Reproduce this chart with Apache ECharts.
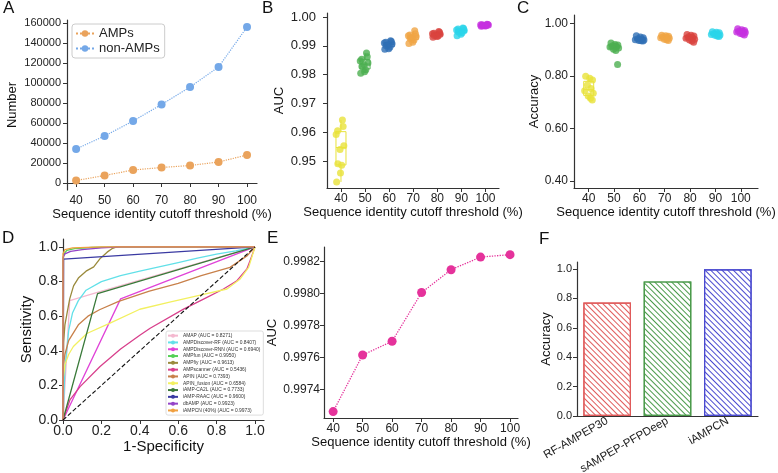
<!DOCTYPE html>
<html>
<head>
<meta charset="utf-8">
<script src="https://cdn.jsdelivr.net/npm/echarts@6/dist/echarts.min.js"></script>
<style>html,body{margin:0;padding:0;background:#fff}#main{width:778px;height:473px}</style>
</head>
<body>
<div id="main"></div>
<script>
var FONT = "'Liberation Sans', Arial, sans-serif";

// A: dataset sizes
var thresholds = [40, 50, 60, 70, 80, 90, 100];
var ampCount = [2500, 7500, 13000, 15500, 17500, 21000, 28000];
var nonAmpCount = [34000, 47000, 62000, 78500, 96000, 116000, 156000];

// B: AUC per fold
var aucFolds = [
  [0.9642, 0.9620, 0.9605, 0.9592, 0.9553, 0.9540, 0.9490, 0.9485, 0.9458, 0.9427],
  [0.9875, 0.9862, 0.9853, 0.9847, 0.9840, 0.9833, 0.9828, 0.9817, 0.9810, 0.9805],
  [0.9918, 0.9915, 0.9912, 0.9910, 0.9907, 0.9903, 0.9900, 0.9895, 0.9890, 0.9888],
  [0.9952, 0.9942, 0.9938, 0.9935, 0.9932, 0.9928, 0.9925, 0.9920, 0.9912, 0.9908],
  [0.9950, 0.9947, 0.9944, 0.9942, 0.9940, 0.9938, 0.9936, 0.9934, 0.9932, 0.9930],
  [0.9962, 0.9960, 0.9958, 0.9955, 0.9953, 0.9950, 0.9948, 0.9945, 0.9940, 0.9935],
  [0.9975, 0.9974, 0.9973, 0.9973, 0.9972, 0.9971, 0.9970, 0.9970, 0.9969, 0.9968]
];
var jitterB = [0.6, 0.9, -1.4, -2.0, 1.2, -0.4, -1.3, 0.3, -0.2, -1.8];

// C: accuracy per fold
var accFolds = [
  [0.799, 0.791, 0.784, 0.765, 0.752, 0.743, 0.734, 0.723, 0.715, 0.708],
  [0.925, 0.920, 0.918, 0.915, 0.912, 0.910, 0.906, 0.902, 0.897, 0.843],
  [0.953, 0.948, 0.945, 0.942, 0.940, 0.938, 0.937, 0.935, 0.934, 0.933],
  [0.955, 0.953, 0.951, 0.949, 0.947, 0.945, 0.943, 0.940, 0.938, 0.935],
  [0.958, 0.955, 0.952, 0.949, 0.946, 0.943, 0.940, 0.937, 0.933, 0.928],
  [0.968, 0.966, 0.964, 0.962, 0.960, 0.958, 0.956, 0.955, 0.952, 0.950],
  [0.980, 0.976, 0.973, 0.971, 0.969, 0.967, 0.965, 0.962, 0.960, 0.956]
];
var jitterC = [-1.2, 0.4, 1.5, -0.5, 0.9, -1.6, 1.8, -0.2, 0.7, 1.4];
var groupColors = ['#e8e23a', '#4caf50', '#2f6fb5', '#f0a545', '#d9443f', '#2ad4ea', '#c52fe0'];

// D: ROC curves
var rocNames = ['AMAP', 'AMPDiscover-RF', 'AMPDiscover-RNN', 'AMPfun', 'AMPfiy', 'AMPscanner',
  'APIN', 'APIN_fusion', 'iAMP-CA2L', 'iAMP-RAAC', 'dbAMP', 'iAMPCN (40%)'];
var rocAuc = ['0.8271', '0.8407', '0.6940', '0.9950', '0.9613', '0.5436',
  '0.7393', '0.6584', '0.7733', '0.9600', '0.9923', '0.9973'];
var rocColors = ['#f4b8cf', '#62e0e8', '#e043d8', '#55d055', '#9a8a3c', '#d8408c',
  '#c8804a', '#f2f060', '#3a7a3a', '#3a3aa2', '#9444c8', '#f0a040'];
var rocCurves = [
  [[0, 0], [0.035, 0.69], [0.17, 0.735], [1, 1]],
  [[0, 0], [0.01, 0.3], [0.03, 0.52], [0.05, 0.62], [0.08, 0.69], [0.12, 0.75], [0.2, 0.8], [0.3, 0.835],
    [0.4, 0.86], [0.5, 0.885], [0.6, 0.91], [0.7, 0.935], [0.8, 0.958], [0.9, 0.978], [1, 1]],
  [[0, 0], [0.3, 0.7], [1, 1]],
  [[0, 0], [0, 0.93], [0.005, 0.96], [0.02, 0.98], [0.06, 0.99], [0.15, 0.997], [0.3, 1], [1, 1]],
  [[0, 0], [0.003, 0.45], [0.01, 0.55], [0.02, 0.61], [0.035, 0.7], [0.055, 0.775], [0.08, 0.82],
    [0.12, 0.86], [0.16, 0.885], [0.195, 0.935], [0.23, 0.97], [0.255, 0.99], [0.28, 1], [1, 1]],
  [[0, 0], [0.036, 0.116], [0.089, 0.193], [0.193, 0.309], [0.3, 0.41], [0.4, 0.49], [0.454, 0.53],
    [0.628, 0.641], [0.732, 0.699], [0.836, 0.757], [0.906, 0.805], [0.958, 0.873], [0.984, 0.95], [1, 1]],
  [[0, 0], [0, 0.3], [0.01, 0.38], [0.03, 0.46], [0.08, 0.55], [0.13, 0.6], [0.19, 0.637], [0.29, 0.685],
    [0.45, 0.745], [0.6, 0.79], [0.72, 0.834], [0.87, 0.882], [0.96, 0.95], [1, 1]],
  [[0, 0], [0, 0.23], [0.01, 0.32], [0.03, 0.38], [0.054, 0.425], [0.124, 0.5], [0.245, 0.56], [0.4, 0.64],
    [0.55, 0.68], [0.715, 0.722], [0.854, 0.757], [0.923, 0.815], [0.967, 0.882], [1, 1]],
  [[0, 0], [0.18, 0.73], [1, 1]],
  [[0, 0], [0.003, 0.93], [1, 1]],
  [[0, 0], [0, 0.94], [0.01, 0.96], [0.04, 0.975], [0.1, 0.985], [0.2, 0.995], [0.3, 1], [1, 1]],
  [[0, 0], [0, 0.96], [0.01, 0.985], [0.05, 0.995], [0.2, 1], [1, 1]]
];

// E: iAMPCN AUC vs threshold
var aucIAMPCN = [0.99726, 0.997614, 0.99770, 0.998005, 0.998148, 0.998227, 0.998242];

// F: comparison
var toolNames = ['RF-AMPEP30', 'sAMPEP-PFPDeep', 'iAMPCN'];
var toolAcc = [0.772, 0.916, 0.999];
var toolColors = ['#e05a5a', '#4a9a4a', '#4a4ad0'];

function quantile(arr, p) {
  var s = arr.slice().sort(function (a, b) { return a - b; });
  var pos = (s.length - 1) * p, lo = Math.floor(pos);
  var hi = Math.min(lo + 1, s.length - 1);
  return s[lo] + (s[hi] - s[lo]) * (pos - lo);
}
function boxData(folds) {
  return folds.map(function (vals, i) {
    var q1 = quantile(vals, 0.25), q3 = quantile(vals, 0.75), med = quantile(vals, 0.5);
    var iqr = q3 - q1;
    var inside = vals.filter(function (v) { return v >= q1 - 1.5 * iqr && v <= q3 + 1.5 * iqr; });
    return [thresholds[i], Math.min.apply(null, inside), q1, med, q3, Math.max.apply(null, inside)];
  });
}
function jitterData(folds, jit) {
  var out = [];
  folds.forEach(function (vals, g) {
    vals.forEach(function (v, k) { out.push([thresholds[g] + jit[k], v, g]); });
  });
  return out;
}
function renderBox(params, api) {
  var x = api.value(0);
  var pLo = api.coord([x, api.value(1)]), pQ1 = api.coord([x, api.value(2)]);
  var pMed = api.coord([x, api.value(3)]), pQ3 = api.coord([x, api.value(4)]);
  var pHi = api.coord([x, api.value(5)]);
  var hw = 5, cx = pQ1[0];
  var st = { stroke: groupColors[params.dataIndex], fill: 'none', lineWidth: 1 };
  return {
    type: 'group', children: [
      { type: 'rect', shape: { x: cx - hw, y: pQ3[1], width: hw * 2, height: pQ1[1] - pQ3[1] }, style: st },
      { type: 'line', shape: { x1: cx - hw, y1: pMed[1], x2: cx + hw, y2: pMed[1] }, style: st },
      { type: 'line', shape: { x1: cx, y1: pLo[1], x2: cx, y2: pQ1[1] }, style: st },
      { type: 'line', shape: { x1: cx, y1: pQ3[1], x2: cx, y2: pHi[1] }, style: st }
    ]
  };
}

var axisLineStyle = { show: true, lineStyle: { color: '#333', width: 1.2 } };
var tickStyle = { show: true, length: 4, lineStyle: { color: '#333', width: 1 } };
function valAxis(grid, min, max, ticks, digits, size, margin, extra) {
  var a = {
    type: 'value', gridIndex: grid, min: min, max: max, scale: true,
    axisLine: axisLineStyle, splitLine: { show: false },
    axisTick: Object.assign({ customValues: ticks }, tickStyle),
    axisLabel: {
      customValues: ticks, color: '#222', fontFamily: FONT, fontSize: size, margin: margin,
      formatter: function (v) { return digits == null ? String(v) : v.toFixed(digits); }
    },
    nameLocation: 'middle', nameTextStyle: { color: '#111', fontFamily: FONT, fontSize: 13 }
  };
  return Object.assign(a, extra || {});
}

var chart = echarts.init(document.getElementById('main'));

var rocSeries = rocNames.map(function (n, i) {
  return {
    name: n + ' (AUC = ' + rocAuc[i] + ')', type: 'line', xAxisIndex: 3, yAxisIndex: 3,
    data: rocCurves[i], showSymbol: false, symbol: 'none', clip: false,
    lineStyle: { color: rocColors[i], width: 1.3 }, itemStyle: { color: rocColors[i] }, z: 3
  };
});

var option = {
  backgroundColor: '#fff',
  animation: false,
  textStyle: { fontFamily: FONT },
  graphic: [
    { type: 'text', left: 3, top: 0, style: { text: 'A', fontSize: 17, fill: '#111', fontFamily: FONT } },
    { type: 'text', left: 262, top: 0, style: { text: 'B', fontSize: 17, fill: '#111', fontFamily: FONT } },
    { type: 'text', left: 517, top: 0, style: { text: 'C', fontSize: 17, fill: '#111', fontFamily: FONT } },
    { type: 'text', left: 2, top: 230, style: { text: 'D', fontSize: 17, fill: '#111', fontFamily: FONT } },
    { type: 'text', left: 267, top: 230, style: { text: 'E', fontSize: 17, fill: '#111', fontFamily: FONT } },
    { type: 'text', left: 539, top: 231, style: { text: 'F', fontSize: 17, fill: '#111', fontFamily: FONT } }
  ],
  legend: [
    {
      data: ['AMPs', 'non-AMPs'], orient: 'vertical', left: 72, top: 24,
      itemWidth: 18, itemHeight: 8, itemGap: 2, padding: [3, 5, 3, 3],
      borderColor: '#ccc', borderWidth: 1, borderRadius: 3,
      textStyle: { fontSize: 13, color: '#222', fontFamily: FONT }
    },
    {
      data: rocSeries.map(function (s) { return s.name; }), orient: 'vertical', left: 166, top: 331,
      itemWidth: 10, itemHeight: 5, itemGap: 1.5, padding: [2, 3, 2, 1],
      backgroundColor: '#fff', borderColor: '#ddd', borderWidth: 1, borderRadius: 2,
      textStyle: { fontSize: 4.9, color: '#333', fontFamily: FONT, lineHeight: 5.3 }
    }
  ],
  grid: [
    { left: 67, top: 20, width: 190, height: 170, outerBoundsMode: 'none' },
    { left: 327, top: 13, width: 172, height: 175, outerBoundsMode: 'none' },
    { left: 574, top: 15, width: 184, height: 173, outerBoundsMode: 'none' },
    { left: 63, top: 239, width: 201, height: 181, outerBoundsMode: 'none' },
    { left: 324, top: 247, width: 194, height: 171, outerBoundsMode: 'none' },
    { left: 577, top: 262, width: 181, height: 154, outerBoundsMode: 'none' }
  ],
  xAxis: [
    valAxis(0, 36.8, 103.5, thresholds, null, 12, 5, { name: 'Sequence identity cutoff threshold (%)', nameGap: 13 }),
    valAxis(1, 34.2, 105.6, thresholds, null, 12, 5, { name: 'Sequence identity cutoff threshold (%)', nameGap: 13 }),
    valAxis(2, 34.2, 106.8, thresholds, null, 12, 5, { name: 'Sequence identity cutoff threshold (%)', nameGap: 13 }),
    valAxis(3, 0, 1.047, [0, 0.2, 0.4, 0.6, 0.8, 1.0], 1, 14, 4, { name: '1-Specificity', nameGap: 14,
      nameTextStyle: { color: '#111', fontFamily: FONT, fontSize: 15 } }),
    valAxis(4, 36.9, 102.7, thresholds, null, 12, 5, { name: 'Sequence identity cutoff threshold (%)', nameGap: 9 }),
    {
      type: 'category', gridIndex: 5, data: toolNames,
      axisLine: axisLineStyle, axisTick: { show: false },
      axisLabel: { rotate: 30, fontSize: 11.5, color: '#222', fontFamily: FONT, margin: 4, interval: 0 }
    }
  ],
  yAxis: [
    valAxis(0, -7000, 163000, [0, 20000, 40000, 60000, 80000, 100000, 120000, 140000, 160000], null, 11, 6,
      { name: 'Number', nameGap: 48 }),
    valAxis(1, 0.9406, 1.0014, [0.95, 0.96, 0.97, 0.98, 0.99, 1.00], 2, 13, 11, { name: 'AUC', nameGap: 41 }),
    valAxis(2, 0.373, 1.032, [0.40, 0.60, 0.80, 1.00], 2, 12, 6, { name: 'Accuracy', nameGap: 30 }),
    valAxis(3, 0, 1.046, [0, 0.2, 0.4, 0.6, 0.8, 1.0], 1, 14, 5, { name: 'Sensitivity', nameGap: 26,
      nameTextStyle: { color: '#111', fontFamily: FONT, fontSize: 15 } }),
    valAxis(4, 0.99722, 0.99829, [0.9974, 0.9976, 0.9978, 0.9980, 0.9982], 4, 12, 4, { name: 'AUC', nameGap: 33 }),
    valAxis(5, 0, 1.048, [0, 0.2, 0.4, 0.6, 0.8, 1.0], 1, 11, 5, { name: 'Accuracy', nameGap: 24 })
  ],
  series: [
    {
      name: 'AMPs', type: 'line', xAxisIndex: 0, yAxisIndex: 0,
      data: thresholds.map(function (t, i) { return [t, ampCount[i]]; }),
      symbol: 'circle', symbolSize: 8, color: '#eaa35c',
      lineStyle: { type: 'dotted', width: 1.2, color: '#eaa35c' }
    },
    {
      name: 'non-AMPs', type: 'line', xAxisIndex: 0, yAxisIndex: 0,
      data: thresholds.map(function (t, i) { return [t, nonAmpCount[i]]; }),
      symbol: 'circle', symbolSize: 8, color: '#74a8e8',
      lineStyle: { type: 'dotted', width: 1.2, color: '#74a8e8' }
    },
    { type: 'custom', xAxisIndex: 1, yAxisIndex: 1, data: boxData(aucFolds), renderItem: renderBox, z: 2 },
    {
      type: 'scatter', xAxisIndex: 1, yAxisIndex: 1, data: jitterData(aucFolds, jitterB), symbolSize: 7, z: 3,
      itemStyle: { color: function (p) { return groupColors[p.value[2]]; } }
    },
    { type: 'custom', xAxisIndex: 2, yAxisIndex: 2, data: boxData(accFolds), renderItem: renderBox, z: 2 },
    {
      type: 'scatter', xAxisIndex: 2, yAxisIndex: 2, data: jitterData(accFolds, jitterC), symbolSize: 7, z: 3,
      itemStyle: { color: function (p) { return groupColors[p.value[2]]; } }
    }
  ].concat(rocSeries).concat([
    {
      type: 'line', xAxisIndex: 3, yAxisIndex: 3, data: [[0, 0], [1, 1]], symbol: 'none',
      lineStyle: { color: '#111', type: 'dashed', width: 1.1 }, z: 4
    },
    {
      type: 'line', xAxisIndex: 4, yAxisIndex: 4,
      data: thresholds.map(function (t, i) { return [t, aucIAMPCN[i]]; }),
      symbol: 'circle', symbolSize: 9, color: '#e5329b',
      lineStyle: { type: 'dotted', width: 1.3, color: '#e5329b' }
    },
    {
      type: 'bar', xAxisIndex: 5, yAxisIndex: 5, barWidth: '79%',
      data: toolAcc.map(function (v, i) {
        return {
          value: v,
          itemStyle: {
            color: '#fff', borderColor: toolColors[i], borderWidth: 1.2,
            decal: { symbol: 'rect', symbolSize: 1, color: toolColors[i], dashArrayX: [1, 0], dashArrayY: [1, 2.4], rotation: Math.PI / 4 }
          }
        };
      })
    }
  ])
};
chart.setOption(option);
</script>
</body>
</html>
